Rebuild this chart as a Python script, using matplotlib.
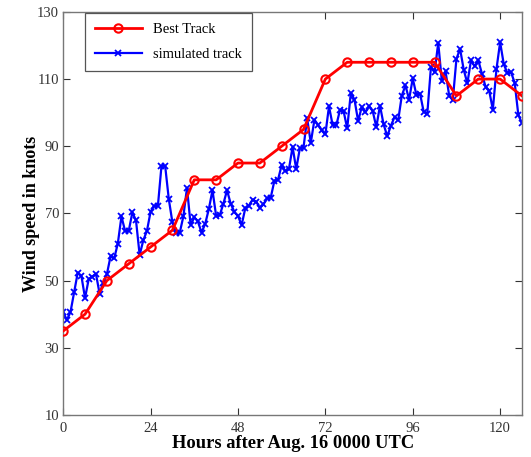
import numpy as np
import matplotlib
matplotlib.use("Agg")
import matplotlib.pyplot as plt

plt.rcParams['font.family'] = ['Liberation Serif', 'DejaVu Serif']

# Best track, every 6 hours
best_hours = list(range(0, 127, 6))
best_wind = [35, 40, 50, 55, 60, 65, 80, 80, 85, 85, 90, 95,
             110, 115, 115, 115, 115, 115, 105, 110, 110, 105]

# Simulated track, hourly
sim_hours = list(range(0, 127))
sim_wind = [40.6, 38.3, 40.6, 46.5, 52.4, 51.4, 44.8, 50.4, 51.2, 52.0,
            46.1, 49.3, 51.9, 57.2, 56.6, 61.0, 69.1, 64.8, 64.8, 70.3,
            67.9, 57.6, 62.0, 64.8, 70.5, 72.3, 72.1, 84.2, 84.2, 74.3,
            67.3, 64.2, 64.2, 69.1, 77.6, 66.6, 68.8, 67.6, 64.3, 66.9,
            71.3, 76.9, 69.3, 69.5, 72.9, 76.9, 72.9, 70.5, 69.3, 66.5,
            71.5, 72.3, 74.1, 73.5, 71.7, 72.7, 74.5, 74.7, 79.7, 80.0,
            84.4, 82.6, 83.2, 89.8, 83.2, 89.4, 89.6, 98.3, 91.0, 97.9,
            96.3, 94.7, 93.5, 101.9, 96.3, 96.2, 100.7, 100.5, 95.3, 105.9,
            103.9, 97.5, 101.7, 100.1, 101.9, 100.5, 95.7, 102.1, 96.5, 93.0,
            96.1, 98.7, 97.7, 105.1, 108.1, 103.9, 110.2, 105.3, 105.7, 100.3,
            99.7, 113.6, 112.0, 120.8, 109.3, 112.4, 105.1, 103.7, 116.0, 119.0,
            112.8, 108.7, 115.6, 113.8, 115.6, 111.6, 107.7, 106.5, 100.9, 113.0,
            121.0, 114.4, 111.8, 112.0, 108.9, 99.3, 96.9]

x_ticks = [0, 24, 48, 72, 96, 120]
y_ticks = [10, 30, 50, 70, 90, 110, 130]

fig = plt.figure(figsize=(5.31, 4.57), dpi=100)
ax = fig.add_axes([0.119, 0.092, 0.864, 0.882])

ax.plot(best_hours, best_wind, color='red', linewidth=2, marker='o',
        markersize=6, markerfacecolor='none', markeredgecolor='red',
        markeredgewidth=1.5, label='Best Track', zorder=3)
ax.plot(sim_hours, sim_wind, color='blue', linewidth=1.6, marker='x',
        markersize=4, markeredgewidth=1.3, label='simulated track', zorder=2)

ax.set_xlim(0, 126)
ax.set_ylim(10, 130)
ax.set_xticks(x_ticks)
ax.set_yticks(y_ticks)
ax.tick_params(direction='in', length=5, width=0.8, top=True, right=True,
               labelsize=10.5, colors='#333333', pad=3)
ax.tick_params(axis='x', pad=5)
for s in ax.spines.values():
    s.set_color('#777777')
    s.set_linewidth(1.0)

ax.set_xlabel('Hours after Aug. 16 0000 UTC', fontsize=13.3, fontweight='bold', labelpad=0)
ax.set_ylabel('Wind speed in knots', fontsize=13, fontweight='bold', labelpad=-2)

leg = ax.legend(loc='upper left', bbox_to_anchor=(0.047, 0.998), borderaxespad=0,
                fontsize=10.5, handlelength=3.2, fancybox=False, framealpha=1,
                borderpad=0.7, labelspacing=0.8)
leg.get_frame().set_edgecolor('#555555')
leg.get_frame().set_linewidth(0.9)

fig.savefig('out.png', dpi=100)
